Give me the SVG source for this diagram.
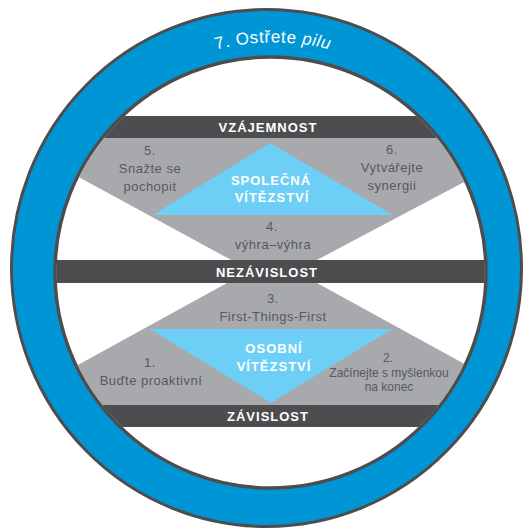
<svg xmlns="http://www.w3.org/2000/svg" width="528" height="531" viewBox="0 0 528 531">
  <defs>
    <style>
      .bar { fill: #4d4d4f; }
      .gray { fill: #a7a9ac; }
      .lblue { fill: #6dcff6; }
      .bartext { font-family: "Liberation Sans", Arial, sans-serif; font-size: 13px; font-weight: bold; fill: #ffffff; letter-spacing: 1px; text-anchor: middle; }
      .wintext { font-family: "Liberation Sans", Arial, sans-serif; font-size: 13px; font-weight: bold; fill: #ffffff; letter-spacing: 1px; text-anchor: middle; }
      .lbl { font-family: "Liberation Sans", Arial, sans-serif; font-size: 13px; fill: #58595b; letter-spacing: 0.5px; text-anchor: middle; }
      .lbls { font-family: "Liberation Sans", Arial, sans-serif; font-size: 12px; fill: #58595b; text-anchor: middle; }
      .ringtext { font-family: "Liberation Sans", Arial, sans-serif; font-size: 17px; fill: #ffffff; letter-spacing: 0.6px; }
    </style>
    <clipPath id="inner">
      <circle cx="270.5" cy="272.5" r="214"/>
    </clipPath>
    <path id="arc" d="M 74 157 A 230 230 0 0 1 472 157"/>
  </defs>

  <g id="ring">
    <ellipse cx="266.5" cy="268" rx="255" ry="258.5" fill="#0096d6" stroke="#4d4d4f" stroke-width="3"/>
    <circle cx="270.5" cy="272.5" r="215.5" fill="#ffffff" stroke="#4d4d4f" stroke-width="3.5"/>
    <text class="ringtext"><textPath href="#arc" startOffset="50%" text-anchor="middle">7. Ostřete <tspan font-style="italic">pilu</tspan></textPath></text>
  </g>

  <g clip-path="url(#inner)">
    <g id="upper-area">
      <polygon class="gray" points="3,136 551,136 315,261 233,261"/>
      <polygon class="lblue" points="270,143 393,215 153,215"/>
    </g>
    <g id="lower-area">
      <polygon class="gray" points="227,283 317,283 543,407 1.5,407"/>
      <polygon class="lblue" points="150,329 392,329 271,403"/>
    </g>
    <g id="bar-vzajemnost">
      <rect class="bar" x="40" y="116" width="460" height="22"/>
    </g>
    <g id="bar-nezavislost">
      <rect class="bar" x="40" y="260" width="460" height="23"/>
    </g>
    <g id="bar-zavislost">
      <rect class="bar" x="40" y="405" width="460" height="22"/>
    </g>
  </g>

  <g id="label-vzajemnost"><text class="bartext" x="268" y="132">VZÁJEMNOST</text></g>
  <g id="label-nezavislost"><text class="bartext" x="267" y="277">NEZÁVISLOST</text></g>
  <g id="label-zavislost"><text class="bartext" x="268" y="421">ZÁVISLOST</text></g>

  <g id="node-5">
    <text class="lbl" x="150" y="155">5.</text>
    <text class="lbl" x="150" y="173">Snažte se</text>
    <text class="lbl" x="150" y="191">pochopit</text>
  </g>
  <g id="node-6">
    <text class="lbl" x="392" y="154">6.</text>
    <text class="lbl" x="392" y="172">Vytvářejte</text>
    <text class="lbl" x="392" y="190">synergii</text>
  </g>
  <g id="node-spolecna">
    <text class="wintext" x="271" y="185">SPOLEČNÁ</text>
    <text class="wintext" x="272" y="202">VÍTĚZSTVÍ</text>
  </g>
  <g id="node-4">
    <text class="lbl" x="272" y="231">4.</text>
    <text class="lbl" x="273" y="249">výhra–výhra</text>
  </g>
  <g id="node-3">
    <text class="lbl" x="273" y="303">3.</text>
    <text class="lbl" x="273" y="321">First-Things-First</text>
  </g>
  <g id="node-osobni">
    <text class="wintext" x="274" y="353">OSOBNÍ</text>
    <text class="wintext" x="274" y="371">VÍTĚZSTVÍ</text>
  </g>
  <g id="node-1">
    <text class="lbl" x="150" y="367">1.</text>
    <text class="lbl" x="151" y="385">Buďte proaktivní</text>
  </g>
  <g id="node-2">
    <text class="lbls" x="388" y="362">2.</text>
    <text class="lbls" x="389" y="377">Začínejte s myšlenkou</text>
    <text class="lbls" x="389" y="391">na konec</text>
  </g>
</svg>
